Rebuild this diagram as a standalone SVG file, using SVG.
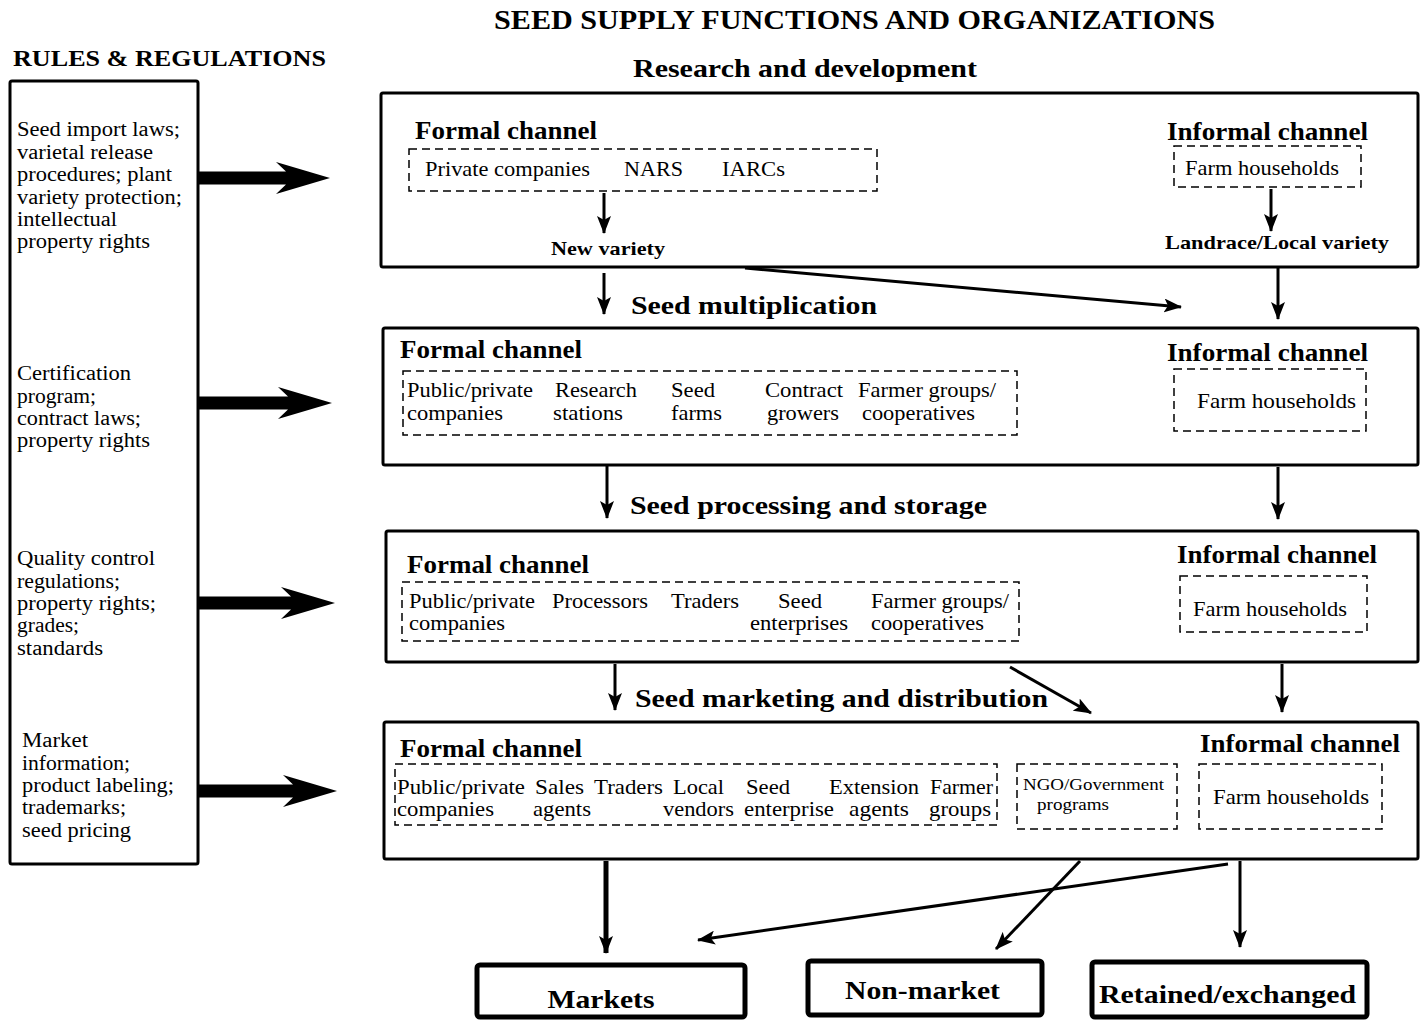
<svg xmlns="http://www.w3.org/2000/svg" width="1426" height="1029" viewBox="0 0 1426 1029">
<style>
text{font-family:"Liberation Serif","Times New Roman",serif;fill:#000}
.b{font-weight:bold}
.title{font-size:28px;font-weight:bold}
.stage{font-size:26px;font-weight:bold}
.ch{font-size:25px;font-weight:bold}
.t{font-size:20px}
.s{font-size:21px}
.lbl{font-size:19px;font-weight:bold}
.box{fill:#fff;stroke:#000;stroke-width:3}
.bbox{fill:#fff;stroke:#000;stroke-width:5}
.dash{fill:none;stroke:#000;stroke-width:1.5;stroke-dasharray:8 5}
.ln{stroke:#000;stroke-width:3;fill:none}
</style>
<defs>
<marker id="ah" markerUnits="userSpaceOnUse" markerWidth="18" markerHeight="14" refX="17" refY="7" orient="auto">
<path d="M0,0 L18,7 L0,14 L4,7 z" fill="#000"/>
</marker>
</defs>
<rect width="1426" height="1029" fill="#fff"/>

<g id="headers">
<text class="title" x="494" y="29" textLength="721" lengthAdjust="spacingAndGlyphs">SEED SUPPLY FUNCTIONS AND ORGANIZATIONS</text>
<text class="b" x="13" y="66" font-size="24" textLength="313" lengthAdjust="spacingAndGlyphs">RULES &amp; REGULATIONS</text>
<text class="stage" x="633" y="77" textLength="344" lengthAdjust="spacingAndGlyphs">Research and development</text>
<text class="stage" x="631" y="314" textLength="246" lengthAdjust="spacingAndGlyphs">Seed multiplication</text>
<text class="stage" x="630" y="514" textLength="357" lengthAdjust="spacingAndGlyphs">Seed processing and storage</text>
<text class="stage" x="635" y="707" textLength="413" lengthAdjust="spacingAndGlyphs">Seed marketing and distribution</text>
</g>

<g id="rules">
<rect class="box" x="10" y="81" width="188" height="783" rx="2"/>
<text class="t" x="17" y="136" textLength="163" lengthAdjust="spacingAndGlyphs">Seed import laws;</text>
<text class="t" x="17" y="159" textLength="136" lengthAdjust="spacingAndGlyphs">varietal release</text>
<text class="t" x="17" y="181" textLength="155" lengthAdjust="spacingAndGlyphs">procedures; plant</text>
<text class="t" x="17" y="204" textLength="165" lengthAdjust="spacingAndGlyphs">variety protection;</text>
<text class="t" x="17" y="226" textLength="100" lengthAdjust="spacingAndGlyphs">intellectual</text>
<text class="t" x="17" y="248" textLength="133" lengthAdjust="spacingAndGlyphs">property rights</text>
<text class="t" x="17" y="380" textLength="114" lengthAdjust="spacingAndGlyphs">Certification</text>
<text class="t" x="17" y="403" textLength="79" lengthAdjust="spacingAndGlyphs">program;</text>
<text class="t" x="17" y="425" textLength="124" lengthAdjust="spacingAndGlyphs">contract laws;</text>
<text class="t" x="17" y="447" textLength="133" lengthAdjust="spacingAndGlyphs">property rights</text>
<text class="t" x="17" y="565" textLength="138" lengthAdjust="spacingAndGlyphs">Quality control</text>
<text class="t" x="17" y="588" textLength="103" lengthAdjust="spacingAndGlyphs">regulations;</text>
<text class="t" x="17" y="610" textLength="139" lengthAdjust="spacingAndGlyphs">property rights;</text>
<text class="t" x="17" y="632" textLength="62" lengthAdjust="spacingAndGlyphs">grades;</text>
<text class="t" x="17" y="655" textLength="86" lengthAdjust="spacingAndGlyphs">standards</text>
<text class="t" x="22" y="747" textLength="66" lengthAdjust="spacingAndGlyphs">Market</text>
<text class="t" x="22" y="770" textLength="108" lengthAdjust="spacingAndGlyphs">information;</text>
<text class="t" x="22" y="792" textLength="152" lengthAdjust="spacingAndGlyphs">product labeling;</text>
<text class="t" x="22" y="814" textLength="104" lengthAdjust="spacingAndGlyphs">trademarks;</text>
<text class="t" x="22" y="837" textLength="109" lengthAdjust="spacingAndGlyphs">seed pricing</text>
</g>

<g id="rd">
<rect class="box" x="381" y="93" width="1037" height="174" rx="2"/>
<text class="ch" x="415" y="139" textLength="182" lengthAdjust="spacingAndGlyphs">Formal channel</text>
<rect class="dash" x="409" y="149" width="468" height="42"/>
<text class="s" x="425" y="176" textLength="165" lengthAdjust="spacingAndGlyphs">Private companies</text>
<text class="s" x="624" y="176" textLength="59" lengthAdjust="spacingAndGlyphs">NARS</text>
<text class="s" x="722" y="176" textLength="63" lengthAdjust="spacingAndGlyphs">IARCs</text>
<text class="lbl" x="551" y="255" textLength="114" lengthAdjust="spacingAndGlyphs">New variety</text>
<text class="ch" x="1167" y="140" textLength="201" lengthAdjust="spacingAndGlyphs">Informal channel</text>
<rect class="dash" x="1174" y="146" width="187" height="41"/>
<text class="s" x="1185" y="175" textLength="154" lengthAdjust="spacingAndGlyphs">Farm households</text>
<text class="lbl" x="1165" y="249" textLength="224" lengthAdjust="spacingAndGlyphs">Landrace/Local variety</text>
</g>

<g id="mult">
<rect class="box" x="383" y="328" width="1035" height="137" rx="2"/>
<text class="ch" x="400" y="358" textLength="182" lengthAdjust="spacingAndGlyphs">Formal channel</text>
<rect class="dash" x="403" y="371" width="614" height="64"/>
<text class="s" x="407" y="397" textLength="126" lengthAdjust="spacingAndGlyphs">Public/private</text>
<text class="s" x="407" y="420" textLength="96" lengthAdjust="spacingAndGlyphs">companies</text>
<text class="s" x="555" y="397" textLength="82" lengthAdjust="spacingAndGlyphs">Research</text>
<text class="s" x="553" y="420" textLength="70" lengthAdjust="spacingAndGlyphs">stations</text>
<text class="s" x="671" y="397" textLength="44" lengthAdjust="spacingAndGlyphs">Seed</text>
<text class="s" x="671" y="420" textLength="51" lengthAdjust="spacingAndGlyphs">farms</text>
<text class="s" x="765" y="397" textLength="78" lengthAdjust="spacingAndGlyphs">Contract</text>
<text class="s" x="767" y="420" textLength="72" lengthAdjust="spacingAndGlyphs">growers</text>
<text class="s" x="858" y="397" textLength="138" lengthAdjust="spacingAndGlyphs">Farmer groups/</text>
<text class="s" x="862" y="420" textLength="113" lengthAdjust="spacingAndGlyphs">cooperatives</text>
<text class="ch" x="1167" y="361" textLength="201" lengthAdjust="spacingAndGlyphs">Informal channel</text>
<rect class="dash" x="1174" y="369" width="192" height="62"/>
<text class="s" x="1197" y="408" textLength="159" lengthAdjust="spacingAndGlyphs">Farm households</text>
</g>

<g id="proc">
<rect class="box" x="386" y="531" width="1032" height="131" rx="2"/>
<text class="ch" x="407" y="573" textLength="182" lengthAdjust="spacingAndGlyphs">Formal channel</text>
<rect class="dash" x="402" y="582" width="617" height="59"/>
<text class="s" x="409" y="608" textLength="126" lengthAdjust="spacingAndGlyphs">Public/private</text>
<text class="s" x="409" y="630" textLength="96" lengthAdjust="spacingAndGlyphs">companies</text>
<text class="s" x="552" y="608" textLength="96" lengthAdjust="spacingAndGlyphs">Processors</text>
<text class="s" x="671" y="608" textLength="68" lengthAdjust="spacingAndGlyphs">Traders</text>
<text class="s" x="778" y="608" textLength="44" lengthAdjust="spacingAndGlyphs">Seed</text>
<text class="s" x="750" y="630" textLength="98" lengthAdjust="spacingAndGlyphs">enterprises</text>
<text class="s" x="871" y="608" textLength="138" lengthAdjust="spacingAndGlyphs">Farmer groups/</text>
<text class="s" x="871" y="630" textLength="113" lengthAdjust="spacingAndGlyphs">cooperatives</text>
<text class="ch" x="1177" y="563" textLength="200" lengthAdjust="spacingAndGlyphs">Informal channel</text>
<rect class="dash" x="1180" y="576" width="187" height="56"/>
<text class="s" x="1193" y="616" textLength="154" lengthAdjust="spacingAndGlyphs">Farm households</text>
</g>

<g id="mkt">
<rect class="box" x="384" y="722" width="1034" height="137" rx="2"/>
<text class="ch" x="400" y="757" textLength="182" lengthAdjust="spacingAndGlyphs">Formal channel</text>
<rect class="dash" x="395" y="764" width="602" height="61"/>
<text class="s" x="397" y="794" textLength="128" lengthAdjust="spacingAndGlyphs">Public/private</text>
<text class="s" x="397" y="816" textLength="97" lengthAdjust="spacingAndGlyphs">companies</text>
<text class="s" x="535" y="794" textLength="49" lengthAdjust="spacingAndGlyphs">Sales</text>
<text class="s" x="533" y="816" textLength="58" lengthAdjust="spacingAndGlyphs">agents</text>
<text class="s" x="594" y="794" textLength="69" lengthAdjust="spacingAndGlyphs">Traders</text>
<text class="s" x="673" y="794" textLength="51" lengthAdjust="spacingAndGlyphs">Local</text>
<text class="s" x="663" y="816" textLength="71" lengthAdjust="spacingAndGlyphs">vendors</text>
<text class="s" x="746" y="794" textLength="44" lengthAdjust="spacingAndGlyphs">Seed</text>
<text class="s" x="744" y="816" textLength="90" lengthAdjust="spacingAndGlyphs">enterprise</text>
<text class="s" x="829" y="794" textLength="90" lengthAdjust="spacingAndGlyphs">Extension</text>
<text class="s" x="849" y="816" textLength="60" lengthAdjust="spacingAndGlyphs">agents</text>
<text class="s" x="930" y="794" textLength="63" lengthAdjust="spacingAndGlyphs">Farmer</text>
<text class="s" x="929" y="816" textLength="62" lengthAdjust="spacingAndGlyphs">groups</text>
<rect class="dash" x="1017" y="764" width="160" height="65"/>
<text x="1023" y="790" font-size="16" textLength="141" lengthAdjust="spacingAndGlyphs">NGO/Government</text>
<text x="1037" y="810" font-size="16" textLength="72" lengthAdjust="spacingAndGlyphs">programs</text>
<text class="ch" x="1200" y="752" textLength="200" lengthAdjust="spacingAndGlyphs">Informal channel</text>
<rect class="dash" x="1199" y="764" width="183" height="65"/>
<text class="s" x="1213" y="804" textLength="156" lengthAdjust="spacingAndGlyphs">Farm households</text>
</g>

<g id="markets">
<rect class="bbox" x="477" y="965" width="268" height="52" rx="3"/>
<text class="stage" x="601" y="1008" text-anchor="middle" textLength="107" lengthAdjust="spacingAndGlyphs">Markets</text>
</g>
<g id="nonmarket">
<rect class="bbox" x="808" y="961" width="234" height="54" rx="3"/>
<text class="stage" x="845" y="999" textLength="155" lengthAdjust="spacingAndGlyphs">Non-market</text>
</g>
<g id="retained">
<rect class="bbox" x="1092" y="962" width="275" height="55" rx="3"/>
<text class="stage" x="1099" y="1003" textLength="257" lengthAdjust="spacingAndGlyphs">Retained/exchanged</text>
</g>

<g id="connectors">
<polygon points="198,171.5 286,171.5 276,162 330,178 276,194 286,184.5 198,184.5" fill="#000"/>
<polygon points="198,396.5 288,396.5 278,387 332,403 278,419 288,409.5 198,409.5" fill="#000"/>
<polygon points="198,596.5 291,596.5 281,587 335,603 281,619 291,609.5 198,609.5" fill="#000"/>
<polygon points="198,784.5 293,784.5 283,775 337,791 283,807 293,797.5 198,797.5" fill="#000"/>
<line class="ln" x1="604" y1="193" x2="604" y2="233" marker-end="url(#ah)"/>
<line class="ln" x1="1271" y1="189" x2="1271" y2="231" marker-end="url(#ah)"/>
<line class="ln" x1="604" y1="273" x2="604" y2="314" marker-end="url(#ah)"/>
<line class="ln" x1="745" y1="268" x2="1181" y2="307" marker-end="url(#ah)"/>
<line class="ln" x1="1278" y1="267" x2="1278" y2="319" marker-end="url(#ah)"/>
<line class="ln" x1="607" y1="466" x2="607" y2="518" marker-end="url(#ah)"/>
<line class="ln" x1="1278" y1="467" x2="1278" y2="519" marker-end="url(#ah)"/>
<line class="ln" x1="615" y1="664" x2="615" y2="710" marker-end="url(#ah)"/>
<line class="ln" x1="1010" y1="667" x2="1091" y2="713" marker-end="url(#ah)"/>
<line class="ln" x1="1282" y1="664" x2="1282" y2="712" marker-end="url(#ah)"/>
<line x1="606" y1="861" x2="606" y2="953" stroke="#000" stroke-width="5" marker-end="url(#ah)"/>
<line class="ln" x1="1228" y1="864" x2="698" y2="940" marker-end="url(#ah)"/>
<line class="ln" x1="1080" y1="861" x2="996" y2="949" marker-end="url(#ah)"/>
<line class="ln" x1="1240" y1="861" x2="1240" y2="947" marker-end="url(#ah)"/>
</g>
</svg>
